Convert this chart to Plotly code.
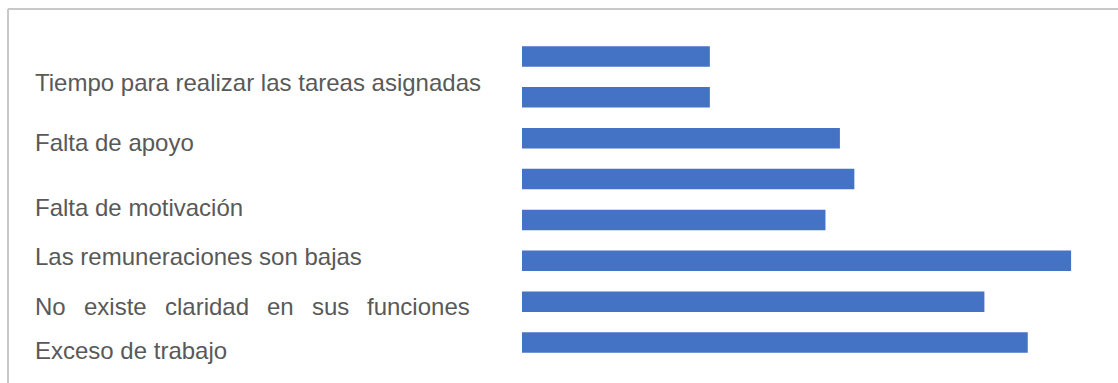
import plotly.graph_objects as go

# Bar values, top to bottom
bar_ids = ["B1", "B2", "B3", "B4", "B5", "B6", "B7", "B8"]
bar_values = [13, 13, 22, 23, 21, 38, 32, 35]

# Text lines on the left side
labels = [
    "Tiempo para realizar las tareas asignadas",
    "Falta de apoyo",
    "Falta de motivación",
    "Las remuneraciones son bajas",
    "No existe claridad en sus funciones",
    "Exceso de trabajo",
]

W, H = 1118, 383
L, R, T, B = 522, 18, 36, 20
PW, PH = W - L - R, H - T - B


def px_x(px):
    return (px - L) / PW


def px_y(py):
    return 1 - (py - T) / PH


fig = go.Figure(
    go.Bar(
        x=bar_values,
        y=bar_ids,
        orientation="h",
        marker=dict(color="#4472C4", line=dict(width=0)),
        hoverinfo="x",
    )
)

font = dict(family="Liberation Sans, Arial, sans-serif", size=24, color="#595959")
label_y = [82, 142, 207, 256, 306, 350]
annotations = []
for text, py in zip(labels, label_y):
    if text.startswith("No existe"):
        # justified line: words spread evenly across the column
        word_x = [33, 82, 163, 265, 310, 365]
        for w, wx in zip(text.split(" "), word_x):
            annotations.append(dict(
                text=w, xref="paper", yref="paper", x=px_x(wx), y=px_y(py),
                xanchor="left", yanchor="middle", showarrow=False, font=font,
            ))
    else:
        annotations.append(dict(
            text=text, xref="paper", yref="paper", x=px_x(33), y=px_y(py),
            xanchor="left", yanchor="middle", showarrow=False, font=font,
        ))

# outer frame (top and left edges)
frame = dict(color="#c8c8c8", width=2)
shapes = [
    dict(type="line", xref="paper", yref="paper", x0=px_x(8), x1=px_x(W + 10),
         y0=px_y(9), y1=px_y(9), line=frame),
    dict(type="line", xref="paper", yref="paper", x0=px_x(8), x1=px_x(8),
         y0=px_y(9), y1=px_y(H + 10), line=frame),
]

fig.update_layout(
    width=W, height=H,
    margin=dict(l=L, r=R, t=T, b=B),
    paper_bgcolor="white", plot_bgcolor="white",
    bargap=0.5,
    showlegend=False,
    xaxis=dict(range=[0, 40], visible=False, fixedrange=True),
    yaxis=dict(autorange="reversed", visible=False, fixedrange=True),
    annotations=annotations,
    shapes=shapes,
)

fig.write_html("out.html")
